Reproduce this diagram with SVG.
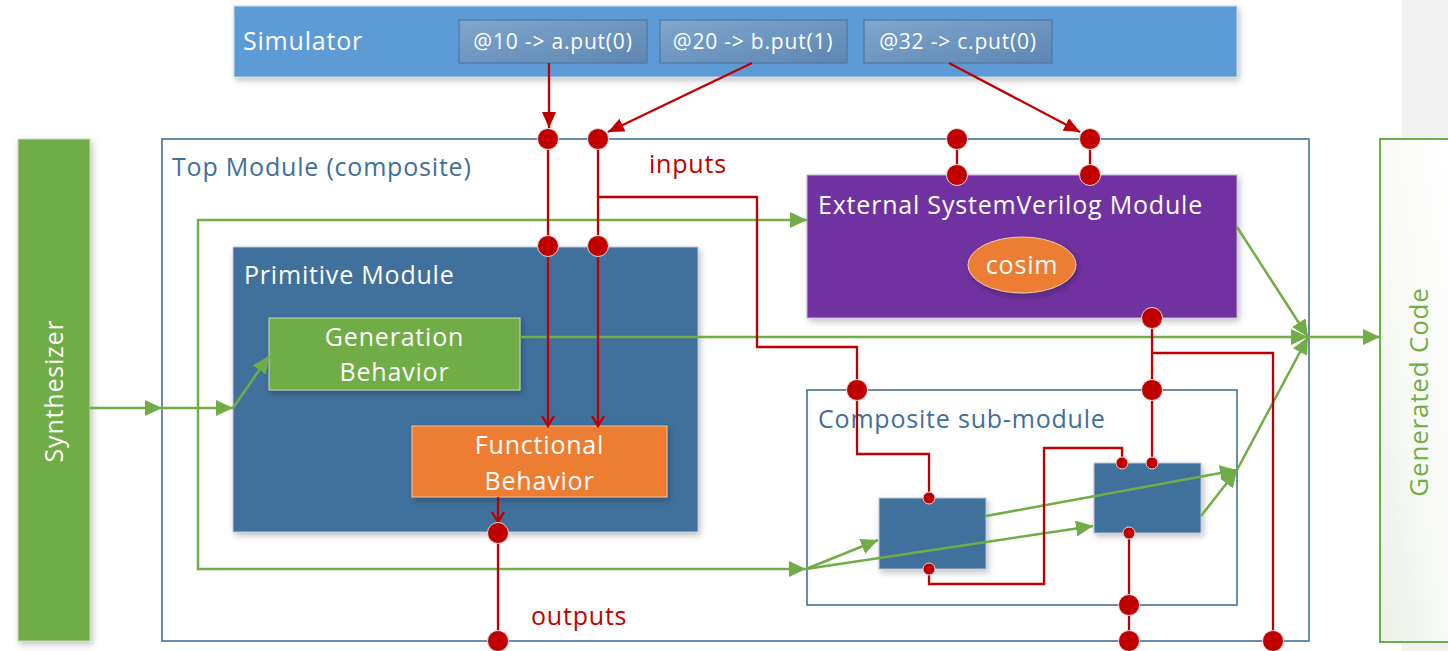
<svg xmlns="http://www.w3.org/2000/svg" width="1448" height="651" viewBox="0 0 1448 651">
  <defs>
    <style>
      text { font-family: "Open Sans", "Noto Sans", "Liberation Sans", sans-serif; letter-spacing: 0.8px; }
      .lbl { font-size: 25px; fill: #ffffff; }
      .sim { font-size: 21px; fill: #ffffff; text-anchor: middle; }
      .blue-t { font-size: 25px; fill: #3F6E9C; }
      .red-t { font-size: 25px; fill: #C00000; }
      .frame { fill: none; stroke: #41719C; stroke-width: 1.6; }
      .g { fill: none; stroke: #70AD47; stroke-width: 2.5; }
      .r { fill: none; stroke: #C00000; stroke-width: 2.3; }
      .port { fill: #C00000; stroke: #E9D3D3; stroke-width: 1; }
    </style>
    <filter id="shadow" x="-10%" y="-10%" width="125%" height="130%">
      <feDropShadow dx="2" dy="3" stdDeviation="3" flood-color="#000" flood-opacity="0.25"/>
    </filter>
    <linearGradient id="evt" x1="0" y1="0" x2="1" y2="1">
      <stop offset="0" stop-color="#7EA6CE"/>
      <stop offset="1" stop-color="#5D86B2"/>
    </linearGradient>
    <linearGradient id="gen" x1="1" y1="0" x2="0" y2="1">
      <stop offset="0" stop-color="#FFFFFF"/>
      <stop offset="0.6" stop-color="#F8FAF6"/>
      <stop offset="1" stop-color="#EAEFE7"/>
    </linearGradient>
    <marker id="ga" markerUnits="userSpaceOnUse" markerWidth="18" markerHeight="16" refX="17" refY="8" orient="auto">
      <path d="M0,0 L17,8 L0,16 z" fill="#70AD47"/>
    </marker>
    <marker id="ra" markerUnits="userSpaceOnUse" markerWidth="16" markerHeight="14" refX="16" refY="7" orient="auto">
      <path d="M0,0 L16,7 L0,14 z" fill="#C00000"/>
    </marker>
    <marker id="rv" markerUnits="userSpaceOnUse" markerWidth="14" markerHeight="16" refX="11" refY="7" orient="auto">
      <path d="M1,1 L11,7 L1,13" fill="none" stroke="#C00000" stroke-width="2.3"/>
    </marker>
  </defs>

  <!-- page margin strip -->
  <rect x="1402" y="0" width="46" height="651" fill="#F2F2F2"/>

  <g id="simulator">
    <rect x="234" y="6" width="1003" height="71" fill="#5B9BD5" stroke="#C9D9EA" stroke-width="1" filter="url(#shadow)"/>
    <text class="lbl" x="243" y="50">Simulator</text>
  </g>
  <g id="event-a">
    <rect x="459" y="20" width="188" height="43" fill="url(#evt)" stroke="#4E78A6" stroke-width="1.2"/>
    <text class="sim" x="553" y="49">@10 -&gt; a.put(0)</text>
  </g>
  <g id="event-b">
    <rect x="660" y="20" width="187" height="43" fill="url(#evt)" stroke="#4E78A6" stroke-width="1.2"/>
    <text class="sim" x="753" y="49">@20 -&gt; b.put(1)</text>
  </g>
  <g id="event-c">
    <rect x="864" y="20" width="188" height="43" fill="url(#evt)" stroke="#4E78A6" stroke-width="1.2"/>
    <text class="sim" x="958" y="49">@32 -&gt; c.put(0)</text>
  </g>

  <g id="synthesizer">
    <rect x="18" y="139" width="72" height="502" fill="#70AD47" stroke="#C8D9BC" stroke-width="1" filter="url(#shadow)"/>
    <text class="lbl" x="0" y="0" text-anchor="middle" transform="translate(63 391) rotate(-90)">Synthesizer</text>
  </g>

  <g id="generated-code">
    <rect x="1380" y="139" width="80" height="503" fill="url(#gen)" stroke="#70AD47" stroke-width="2"/>
    <text x="0" y="0" text-anchor="middle" font-size="26" fill="#70AD47" transform="translate(1428 392) rotate(-90)">Generated Code</text>
  </g>

  <g id="top-module">
    <rect class="frame" x="162" y="139" width="1147" height="502"/>
    <text class="blue-t" x="172" y="176">Top Module (composite)</text>
  </g>

  <g id="primitive-module">
    <rect x="233" y="247" width="465" height="285" fill="#41719C" stroke="#B7C7D8" stroke-width="1" filter="url(#shadow)"/>
    <text class="lbl" x="244" y="284">Primitive Module</text>
  </g>

  <g id="generation-behavior">
    <rect x="269" y="318" width="251" height="72" fill="#70AD47" stroke="#C6D9B9" stroke-width="1" filter="url(#shadow)"/>
    <text class="lbl" x="394.5" y="346" text-anchor="middle">Generation</text>
    <text class="lbl" x="394.5" y="381" text-anchor="middle">Behavior</text>
  </g>

  <g id="functional-behavior">
    <rect x="412" y="426" width="255" height="71" fill="#ED7D31" stroke="#F2C3A4" stroke-width="1" filter="url(#shadow)"/>
    <text class="lbl" x="539.5" y="454" text-anchor="middle">Functional</text>
    <text class="lbl" x="539.5" y="490" text-anchor="middle">Behavior</text>
  </g>

  <g id="external-module">
    <rect x="807" y="175" width="430" height="143" fill="#7030A0" stroke="#C7B3D8" stroke-width="1" filter="url(#shadow)"/>
    <text class="lbl" x="818" y="214">External SystemVerilog Module</text>
  </g>
  <g id="cosim">
    <ellipse cx="1022" cy="265" rx="54" ry="28" fill="#ED7D31" stroke="#F4C9AB" stroke-width="1" filter="url(#shadow)"/>
    <text class="lbl" x="1022" y="274" text-anchor="middle">cosim</text>
  </g>

  <g id="composite-sub-module">
    <rect class="frame" x="807" y="390" width="430" height="215"/>
    <text class="blue-t" x="818" y="428">Composite sub-module</text>
  </g>
  <g id="sub-block-1">
    <rect x="879" y="498" width="107" height="71" fill="#41719C" stroke="#B7C7D8" stroke-width="1" filter="url(#shadow)"/>
  </g>
  <g id="sub-block-2">
    <rect x="1094" y="463" width="107" height="70" fill="#41719C" stroke="#B7C7D8" stroke-width="1" filter="url(#shadow)"/>
  </g>

  <text class="red-t" x="649" y="173">inputs</text>
  <text class="red-t" x="531" y="625">outputs</text>

  <g id="connectors">
    <!-- synthesis flow (green) -->
    <path class="g" d="M90,408 H162" marker-end="url(#ga)"/>
    <path class="g" d="M162,408 H233" marker-end="url(#ga)"/>
    <path class="g" d="M233,408 L269,356" marker-end="url(#ga)"/>
    <path class="g" d="M198,408 V220 H807" marker-end="url(#ga)"/>
    <path class="g" d="M198,408 V569 H806" marker-end="url(#ga)"/>
    <path class="g" d="M806,569 L878,540" marker-end="url(#ga)"/>
    <path class="g" d="M806,569 L1093,526" marker-end="url(#ga)"/>
    <path class="g" d="M986,516 L1237,470" marker-end="url(#ga)"/>
    <path class="g" d="M1201,516 L1237,470" marker-end="url(#ga)"/>
    <path class="g" d="M520,337 H1308" marker-end="url(#ga)"/>
    <path class="g" d="M1237,227 L1308,337" marker-end="url(#ga)"/>
    <path class="g" d="M1237,470 L1308,337" marker-end="url(#ga)"/>
    <path class="g" d="M1308,337 H1380" marker-end="url(#ga)"/>

    <!-- simulation stimulus (red) -->
    <path class="r" d="M549,63 V128" marker-end="url(#ra)"/>
    <path class="r" d="M752,63 L608,132" marker-end="url(#ra)"/>
    <path class="r" d="M949,63 L1080,132" marker-end="url(#ra)"/>
    <path class="r" d="M548,139 V426" marker-end="url(#rv)"/>
    <path class="r" d="M598,139 V426" marker-end="url(#rv)"/>
    <path class="r" d="M598,197 H757 V347 H857 V454 H929 V498"/>
    <path class="r" d="M957,139 V175 M1090,139 V175"/>
    <path class="r" d="M1152,318 V463 M1152,353 H1273 V641"/>
    <path class="r" d="M929,569 V584 H1044 V448 H1122 V463"/>
    <path class="r" d="M1129,533 V641"/>
    <path class="r" d="M498,497 V522" marker-end="url(#rv)"/>
    <path class="r" d="M498,533 V641"/>
  </g>

  <g id="ports">
    <circle class="port" cx="548" cy="139" r="10.5"/>
    <circle class="port" cx="598" cy="139" r="10.5"/>
    <circle class="port" cx="548" cy="246" r="10.5"/>
    <circle class="port" cx="598" cy="246" r="10.5"/>
    <circle class="port" cx="957" cy="139" r="10.5"/>
    <circle class="port" cx="1090" cy="139" r="10.5"/>
    <circle class="port" cx="957" cy="175" r="10.5"/>
    <circle class="port" cx="1090" cy="175" r="10.5"/>
    <circle class="port" cx="1152" cy="318" r="10.5"/>
    <circle class="port" cx="857" cy="390" r="10.5"/>
    <circle class="port" cx="1152" cy="390" r="10.5"/>
    <circle class="port" cx="498" cy="533" r="10.5"/>
    <circle class="port" cx="498" cy="641" r="10.5"/>
    <circle class="port" cx="1129" cy="605" r="10.5"/>
    <circle class="port" cx="1129" cy="641" r="10.5"/>
    <circle class="port" cx="1273" cy="641" r="10.5"/>
    <circle class="port" cx="929" cy="498" r="6"/>
    <circle class="port" cx="929" cy="569" r="6"/>
    <circle class="port" cx="1122" cy="463" r="6"/>
    <circle class="port" cx="1152" cy="463" r="6"/>
    <circle class="port" cx="1129" cy="533" r="6"/>
  </g>
</svg>
